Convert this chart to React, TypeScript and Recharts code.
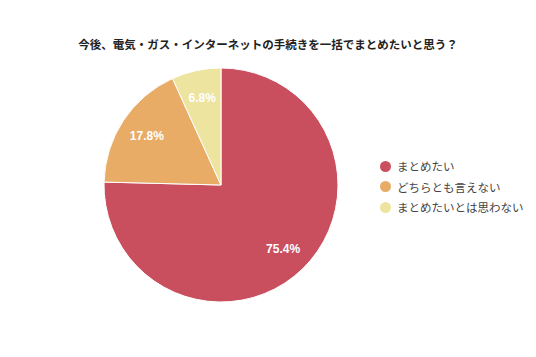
import { Cell, Legend, Pie, PieChart } from "recharts";

const title = "今後、電気・ガス・インターネットの手続きを一括でまとめたいと思う？";
const categories = ["まとめたい", "どちらとも言えない", "まとめたいとは思わない"];
const shares = [75.4, 17.8, 6.8];
const colors = ["#c94f5e", "#e8ac67", "#ede4a0"];

const data = categories.map((name, i) => ({ name, value: shares[i], color: colors[i] }));

const RAD = Math.PI / 180;

function renderLabel(props: any) {
  const { cx, cy, midAngle, outerRadius, value } = props;
  const r = outerRadius * 0.76;
  const x = cx + r * Math.cos(-midAngle * RAD);
  const y = cy + r * Math.sin(-midAngle * RAD);
  return (
    <text
      x={x}
      y={y}
      fill="#fff"
      textAnchor="middle"
      dominantBaseline="central"
      fontSize={12}
      fontWeight="bold"
      fontFamily="'Liberation Sans', Arial, sans-serif"
    >
      {value.toFixed(1)}%
    </text>
  );
}

function LegendList() {
  return (
    <ul style={{ listStyle: "none", margin: 0, padding: 0 }}>
      {data.map((d) => (
        <li
          key={d.name}
          style={{
            display: "flex",
            alignItems: "center",
            height: 20.5,
            lineHeight: "20.5px",
            fontSize: 11.5,
            color: "#444",
            fontFamily: "'Noto Sans CJK JP', sans-serif",
          }}
        >
          <span
            style={{
              width: 11,
              height: 11,
              borderRadius: "50%",
              background: d.color,
              marginRight: 6,
              flexShrink: 0,
            }}
          />
          {d.name}
        </li>
      ))}
    </ul>
  );
}

export default function App() {
  return (
    <div
      style={{
        position: "absolute",
        left: 0,
        top: 0,
        width: 536,
        height: 357,
        background: "#fff",
      }}
    >
      <div
        style={{
          position: "absolute",
          top: 36,
          left: 0,
          width: 536,
          textAlign: "center",
          fontSize: 11.5,
          fontWeight: "bold",
          color: "#222",
          fontFamily: "'Noto Sans CJK JP', sans-serif",
        }}
      >
        {title}
      </div>
      <PieChart width={536} height={357}>
        <Pie
          data={data}
          dataKey="value"
          nameKey="name"
          cx={216}
          cy={180}
          outerRadius={117}
          startAngle={90}
          endAngle={-270}
          stroke="#fff"
          strokeWidth={1}
          label={renderLabel}
          labelLine={false}
          isAnimationActive={false}
        >
          {data.map((d, i) => (
            <Cell key={i} fill={d.color} />
          ))}
        </Pie>
        <Legend
          layout="vertical"
          content={<LegendList />}
          wrapperStyle={{ left: 380, top: 156, width: 150 }}
        />
      </PieChart>
    </div>
  );
}
